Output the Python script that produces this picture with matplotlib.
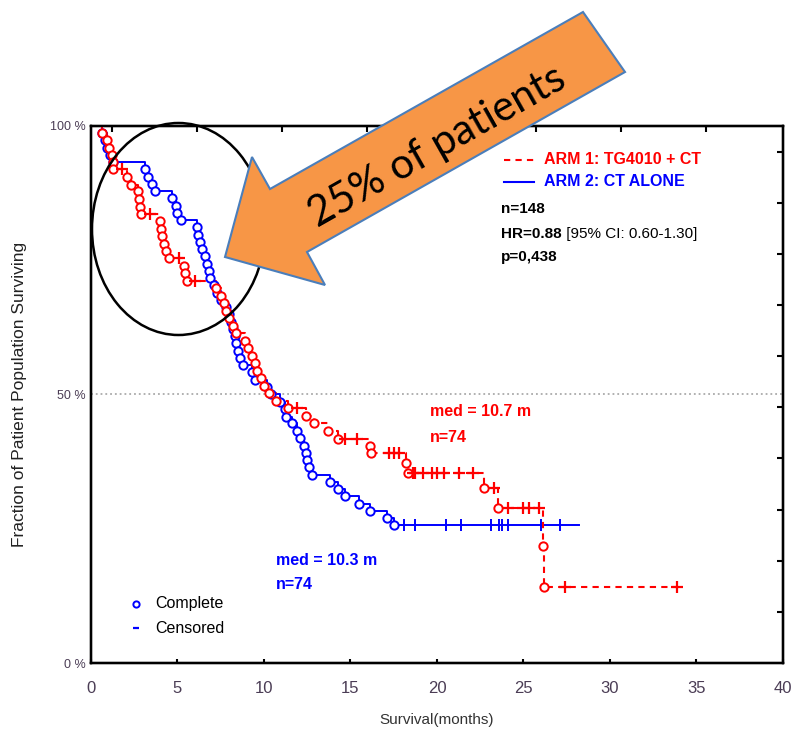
import numpy as np
import matplotlib
matplotlib.use("Agg")
import matplotlib.pyplot as plt
from matplotlib.patches import Polygon, Ellipse

# ARM 1: TG4010 + CT (red), event times (months) and survival (%) after each event
red_event_t = [0.65, 0.9, 1.05, 1.2, 1.25, 1.3, 2.1, 2.3, 2.7, 2.8, 2.85, 2.9,
               4.0, 4.05, 4.1, 4.2, 4.35, 4.5, 5.4, 5.45, 5.55,
               7.2, 7.5, 7.7, 7.8, 8.0, 8.2, 8.4, 8.9, 9.1, 9.3, 9.5, 9.6, 9.8,
               10.0, 10.3, 10.7, 11.4, 12.4, 12.9, 13.7, 14.3, 16.1, 16.2,
               18.2, 18.3, 22.7, 23.5, 26.15, 26.2]
red_event_s = [98.6, 97.3, 95.9, 94.6, 93.2, 91.9, 90.5, 89.1, 87.8, 86.4, 85.0, 83.7,
               82.3, 80.9, 79.5, 78.1, 76.8, 75.4, 74.0, 72.6, 71.2,
               69.8, 68.4, 67.0, 65.6, 64.2, 62.8, 61.4, 60.0, 58.6, 57.2, 55.8, 54.4, 53.0,
               51.6, 50.2, 48.8, 47.4, 46.0, 44.6, 43.2, 41.8, 40.5, 39.1,
               37.3, 35.4, 32.6, 28.9, 21.8, 14.2]
red_censor_t = [1.8, 3.4, 5.1, 6.0, 11.9, 14.7, 15.4, 17.2, 17.5, 17.8,
                18.6, 18.75, 19.2, 19.7, 20.0, 20.4, 21.3, 22.1, 23.3,
                24.1, 25.0, 25.3, 25.9, 27.4, 33.9]
red_last = 33.9

# ARM 2: CT ALONE (blue)
blue_event_t = [0.65, 0.8, 0.95, 1.1, 1.3, 3.1, 3.3, 3.5, 3.7, 4.7, 4.9, 5.0, 5.2,
                6.1, 6.2, 6.3, 6.4, 6.6, 6.7, 6.8, 6.9, 7.1, 7.3, 7.5, 7.8, 8.0,
                8.1, 8.2, 8.3, 8.4, 8.5, 8.6, 8.8, 9.3, 9.5, 10.2, 10.4, 10.9,
                11.2, 11.3, 11.6, 11.9, 12.1, 12.3, 12.4, 12.5, 12.6, 12.8,
                13.8, 14.3, 14.7, 15.5, 16.1, 17.1, 17.5]
blue_event_s = [98.6, 97.3, 95.9, 94.6, 93.2, 91.9, 90.5, 89.2, 87.8, 86.5, 85.1, 83.8, 82.4,
                81.1, 79.7, 78.4, 77.0, 75.7, 74.3, 73.0, 71.6, 70.3, 68.9, 67.6, 66.2, 64.9,
                63.5, 62.2, 60.8, 59.5, 58.1, 56.8, 55.4, 54.1, 52.7, 51.4, 50.0, 48.6,
                47.3, 45.9, 44.6, 43.2, 41.9, 40.5, 39.2, 37.8, 36.5, 35.1,
                33.8, 32.4, 31.1, 29.7, 28.4, 27.0, 25.7]
blue_censor_t = [18.1, 18.75, 20.5, 21.4, 23.1, 23.6, 23.75, 24.1, 26.0, 27.1]
blue_last = 28.2

x_ticks = [0, 5, 10, 15, 20, 25, 30, 35, 40]
y_tick_vals = [0, 50, 100]
y_tick_labels = ["0 %", "50 %", "100 %"]

RED = "#ff0000"
BLUE = "#0000ff"
TICKCOL = "#4b3d55"
arial = ["Liberation Sans", "DejaVu Sans"]


def km_steps(event_t, event_s, last):
    t = np.array([0.0] + list(event_t) + [last])
    s = np.array([100.0] + list(event_s) + [event_s[-1]])
    return t, s


def level_at(t, s, c):
    idx = np.searchsorted(t, c, side="right") - 1
    return s[np.clip(idx, 0, len(s) - 1)]


fig = plt.figure(figsize=(7.92, 7.29), dpi=100)
ax = fig.add_axes([0.1149, 0.0905, 0.8737, 0.7367])

# curves
rt, rs = km_steps(red_event_t, red_event_s, red_last)
bt, bs = km_steps(blue_event_t, blue_event_s, blue_last)
ax.step(bt, bs, where="post", color=BLUE, lw=1.4, zorder=3)
ax.step(rt, rs, where="post", color=RED, lw=1.5, dashes=(3, 2.5), zorder=4)
ax.plot(blue_event_t, blue_event_s, "o", ms=6, mfc="white", mec=BLUE, mew=1.4, zorder=5)
ax.plot(red_event_t, red_event_s, "o", ms=6, mfc="white", mec=RED, mew=1.4, zorder=6)
ax.plot(blue_censor_t, level_at(bt, bs, np.array(blue_censor_t)), "|", ms=8, mec=BLUE, mew=1.4, zorder=5)
ax.plot(red_censor_t, level_at(rt, rs, np.array(red_censor_t)), "+", ms=8, mec=RED, mew=1.6, zorder=6)

ax.axhline(50, color="#aaaaaa", ls=":", lw=1.3, zorder=1)

ax.set_xlim(0, 40)
ax.set_ylim(0, 100)
for sp in ax.spines.values():
    sp.set_linewidth(1.6)
ax.set_xticks(x_ticks)
ax.set_xticklabels([str(v) for v in x_ticks], fontsize=12, color=TICKCOL, family=arial)
ax.tick_params(axis="x", direction="in", length=3, width=1.5, pad=13)
ax.set_yticks(y_tick_vals)
ax.set_yticklabels(y_tick_labels, fontsize=9, color=TICKCOL, family=arial)
ax.tick_params(axis="y", length=0, pad=4)
ax.set_xlabel("Survival(months)", fontsize=11, color="#333333", family=arial, labelpad=12)
ax.set_ylabel("Fraction of Patient Population Surviving", fontsize=12.5, color="#222222",
              family=arial, labelpad=16)

# extra ticks on top and right (the original has its own scales there)
top = ax.twiny()
top.set_xlim(-1.25, 39.55)
top.set_xticks(x_ticks[:-1])
top.tick_params(axis="x", direction="in", length=4, width=1.5, labeltop=False)
right = ax.twinx()
right.set_ylim(0, 105)
right.set_yticks(range(10, 101, 10))
right.tick_params(axis="y", direction="in", length=4, width=1.5, labelright=False)
for a in (top, right):
    for sp in a.spines.values():
        sp.set_linewidth(1.6)

# legend box at upper right
ax.plot([23.9, 25.6], [93.7, 93.7], color=RED, lw=1.5, dashes=(3, 2.5))
ax.text(26.2, 93.7, "ARM 1: TG4010 + CT", color=RED, fontsize=11.5, fontweight="bold",
        family=arial, va="center")
ax.plot([23.9, 25.6], [89.6, 89.6], color=BLUE, lw=1.5)
ax.text(26.2, 89.6, "ARM 2: CT ALONE", color=BLUE, fontsize=11.5, fontweight="bold",
        family=arial, va="center")
ax.text(23.7, 84.5, "n=148", color="black", fontsize=11, fontweight="bold", family=arial, va="center")
hr = ax.text(23.7, 79.9, "HR=0.88", color="black", fontsize=11, fontweight="bold", family=arial, va="center")
ax.annotate(" [95% CI: 0.60-1.30]", xy=(1, 0.5), xycoords=hr, color="black", fontsize=11,
            family=arial, va="center")
ax.text(23.7, 75.6, "p=0,438", color="black", fontsize=11, fontweight="bold", family=arial, va="center")

ax.text(19.6, 46.8, "med = 10.7 m", color=RED, fontsize=11.5, fontweight="bold", family=arial, va="center")
ax.text(19.6, 42.0, "n=74", color=RED, fontsize=11.5, fontweight="bold", family=arial, va="center")
ax.text(10.7, 19.0, "med = 10.3 m", color=BLUE, fontsize=11.5, fontweight="bold", family=arial, va="center")
ax.text(10.7, 14.6, "n=74", color=BLUE, fontsize=11.5, fontweight="bold", family=arial, va="center")

ax.plot([2.6], [11.0], "o", ms=4.5, mfc="white", mec=BLUE, mew=1.4)
ax.text(3.7, 11.0, "Complete", fontsize=11.5, family=arial, va="center", color="black")
ax.plot([2.6], [6.5], "_", ms=5, mec=BLUE, mew=1.6)
ax.text(3.7, 6.5, "Censored", fontsize=11.5, family=arial, va="center", color="black")

# overlay in pixel coordinates for the ellipse and the arrow
ov = fig.add_axes([0, 0, 1, 1], zorder=10)
ov.set_xlim(0, 792)
ov.set_ylim(729, 0)
ov.axis("off")
ov.patch.set_alpha(0)
ov.add_patch(Ellipse((178.5, 229), 173, 212, fill=False, ec="black", lw=1.8))
arrow = [(583, 12), (625, 72), (307, 252), (325, 285), (225, 257), (252, 157), (270, 189)]
ov.add_patch(Polygon(arrow, closed=True, fc="#f79646", ec="#4a7ebb", lw=1.5))
ov.text(437, 146, "25% of patients", fontsize=30, family=["Lato", "DejaVu Sans"],
        rotation=29.5, rotation_mode="anchor", ha="center", va="center", color="black")

fig.savefig("out.png", dpi=100)
